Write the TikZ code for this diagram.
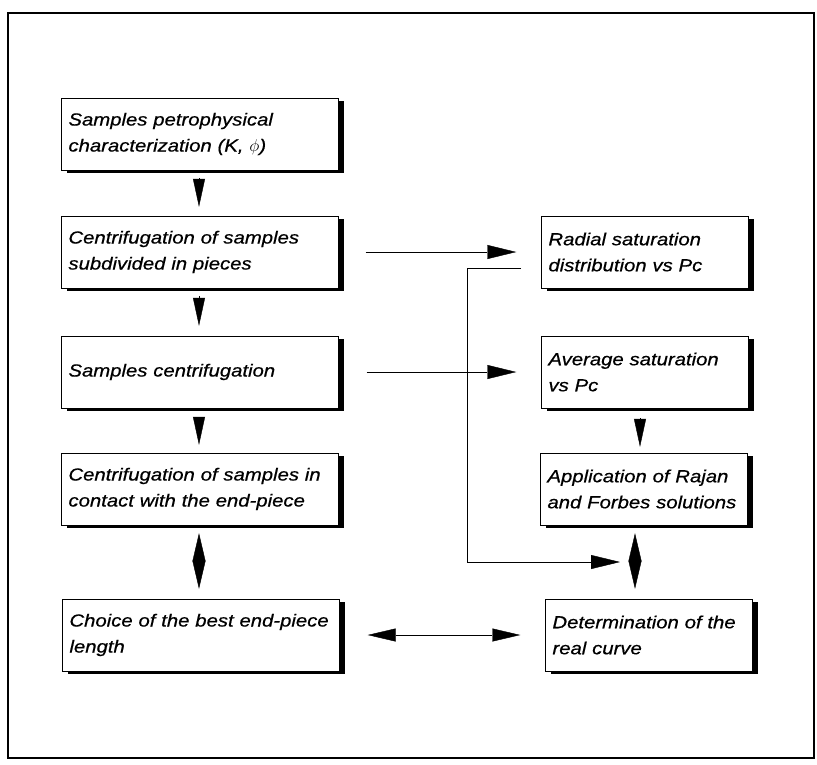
\documentclass[tikz,border=0pt]{standalone}
\usepackage{fontspec}
\setmainfont{Liberation Sans}[FakeStretch=1.16, FakeBold=0.6]
\usetikzlibrary{arrows.meta}
\usetikzlibrary{shadows}
\tikzset{
    stepbox/.style={draw, thin, rectangle, fill=white, minimum height=72pt, inner xsep=7pt, align=left,
        font=\itshape\fontsize{17.5}{26}\selectfont,
        drop shadow={shadow xshift=5pt, shadow yshift=-3pt, fill=black, opacity=1}}, % 带阴影的方框
    leftbox/.style={stepbox, text width=263pt},  % 左列方框
    rightbox/.style={stepbox, text width=193pt}, % 右列方框
    flow/.style={thin, -{Triangle[length=29pt, width=14pt]}},   % 横向箭头
    downtri/.style={thin, -{Triangle[length=28pt, width=12pt]}}, % 竖向三角
    twoway/.style={thin, {Triangle[length=28pt, width=13pt]}-{Triangle[length=28pt, width=13pt]}} % 双向三角
}

\begin{document}
\begin{tikzpicture}[x=1pt, y=-1pt]
          \useasboundingbox (0,0) rectangle (817,764);
          \draw[line width=1.2pt] (8,13) rectangle (814,758);

          % --- 1. 用循环画出两列方框: \name / \x / \y / \txt ---
          \foreach \name / \x / \y / \txt in {
              b1/200/134/{Samples petrophysical\\characterization (K, $\phi$)},
              b2/200/252/{Centrifugation of samples\\subdivided in pieces},
              b3/200/372/{Samples centrifugation},
              b4/200/489/{Centrifugation of samples in\\contact with the end-piece},
              b5/201/635/{Choice of the best end-piece\\length}
          } {
              \node[leftbox] (\name) at (\x, \y) {\txt};
          }

          \foreach \name / \x / \y / \txt in {
              r1/645/252/{Radial saturation\\distribution vs Pc},
              r2/645/372/{Average saturation\\vs Pc},
              r3/644/489/{Application of Rajan\\and Forbes solutions},
              r4/649/635/{Determination of the\\real curve}
          } {
              \node[rightbox] (\name) at (\x, \y) {\txt};
          }

          % --- 2. 竖向三角箭头 ---
          \coordinate (lx) at (199,0);
          \coordinate (rx) at (640,0);
          \coordinate (ry) at (635,0);
          \draw[downtri, shorten <=8pt, shorten >=9pt] (b1.south -| lx) -- (b2.north -| lx);
          \draw[downtri, shorten <=8pt, shorten >=10pt] (b2.south -| lx) -- (b3.north -| lx);
          \draw[downtri, shorten <=9pt, shorten >=8pt] (b3.south -| lx) -- (b4.north -| lx);
          \draw[twoway, shorten <=8pt, shorten >=10pt] (b4.south -| lx) -- (b5.north -| lx);
          \draw[downtri, shorten <=10pt, shorten >=6pt] (r2.south -| rx) -- (r3.north -| rx);
          \draw[twoway, shorten <=8pt, shorten >=10pt] (r3.south -| ry) -- (r4.north -| ry);

          % --- 3. 横向箭头 ---
          \draw[flow, shorten <=27pt, shorten >=25pt] (b2.east) -- (r1.west);
          \draw[flow, shorten <=28pt, shorten >=25pt] (b3.east) -- (r2.west);
          \draw[twoway, shorten <=28pt, shorten >=25pt] (b5.east) -- (r4.west);

          % --- 4. 回路线 ---
          \coordinate (fb start) at (521,268);
          \coordinate (fb end) at (620,562);
          \draw[flow] (fb start) -- ++(-54,0) |- (fb end);

      \end{tikzpicture}
\end{document}
